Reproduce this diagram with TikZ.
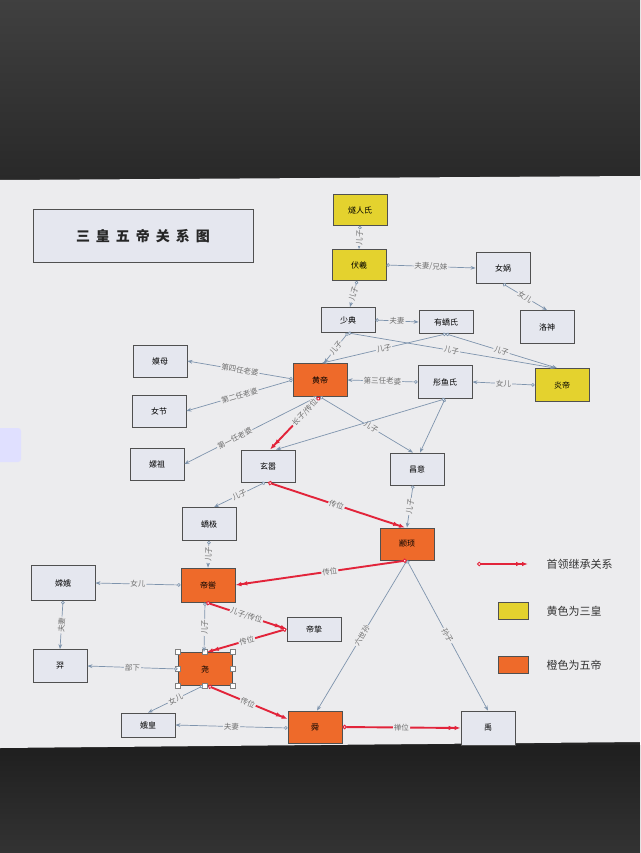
\documentclass[tikz,border=0pt]{standalone}
\usepackage{fontspec}
\setmainfont{Noto Sans CJK SC}
\usetikzlibrary{arrows.meta}
\definecolor{scr}{HTML}{ECECEE}
\definecolor{boxfill}{HTML}{E5E7EF}
\definecolor{boxline}{HTML}{505050}
\definecolor{yel}{HTML}{E4D22E}
\definecolor{org}{HTML}{EE6A2A}
\definecolor{eblue}{HTML}{7E94AD}
\definecolor{rline}{HTML}{E2243A}
\definecolor{lbltext}{HTML}{6E6E6E}
\definecolor{bgdark}{HTML}{242424}
\tikzset{
  box/.style={draw=boxline, line width=0.8pt, fill=boxfill, minimum width=54pt, minimum height=31pt, inner sep=0pt, font=\fontsize{8}{8}\selectfont},
  ybox/.style={box, fill=yel},
  obox/.style={box, fill=org},
  bl/.style={draw=eblue, line width=0.7pt, arrows={Circle[fill=white,length=3.5pt]-Stealth[length=5pt]}},
  rd/.style={draw=rline, line width=1.9pt, arrows={Circle[fill=white,length=4.5pt,line width=1pt]-Latex[length=6pt]Latex[length=6pt]}},
  lbl/.style={font=\fontsize{7.5}{7.5}\selectfont, text=lbltext, fill=scr, inner sep=1pt, sloped},
  handle/.style={draw=gray, fill=white, line width=0.4pt},
  legtext/.style={anchor=west, font=\fontsize{11}{11}\selectfont, text=black!80}
}
\begin{document}
\begin{tikzpicture}[x=1pt, y=-1pt]
\useasboundingbox (0,0) rectangle (640,853);
% background (photo of a screen)
\fill[bgdark] (0,0) rectangle (640,853);
\shade[top color=black!75, bottom color=black!84] (0,0) rectangle (640,180);
\shade[top color=black!88, bottom color=black!80] (0,745) rectangle (640,853);
\fill[scr] (0,180) -- (640,176) -- (640,742) -- (0,748) -- cycle;
\fill[blue!12, rounded corners=3pt] (-5,428) rectangle (21,462);

% title
\node[draw=boxline, line width=0.8pt, fill=boxfill, minimum width=220pt, minimum height=53pt, font=\fontsize{14}{14}\selectfont\bfseries, text=black!85] (title) at (143,236)
  {三\hspace{6pt}皇\hspace{6pt}五\hspace{6pt}帝\hspace{6pt}关\hspace{6pt}系\hspace{6pt}图};

% nodes
\node[ybox] (sr) at (360,210) {燧人氏};
\node[ybox] (fx) at (359,265) {伏羲};
\node[box] (nw) at (503,268) {女娲};
\node[box, minimum height=33pt] (ls) at (547,327) {洛神};
\node[box, minimum height=25pt] (sd) at (348,320) {少典};
\node[box, minimum height=23pt] (yj) at (446,322) {有蟜氏};
\node[box, minimum height=32pt] (mm) at (160,361) {嫫母};
\node[obox, minimum height=33pt] (hd) at (320,380) {黄帝};
\node[box, minimum height=33pt] (ty) at (445,382) {彤鱼氏};
\node[ybox, minimum height=33pt] (yd) at (562,385) {炎帝};
\node[box, minimum height=32pt] (nj) at (159,411) {女节};
\node[box, minimum height=32pt] (lz) at (157,464) {嫘祖};
\node[box, minimum height=32pt] (xx) at (268,466) {玄嚣};
\node[box, minimum height=32pt] (cy) at (417,469) {昌意};
\node[box, minimum height=33pt] (jj) at (209,524) {蟜极};
\node[obox, minimum height=32pt] (zx) at (407,544) {颛顼};
\node[box, minimum width=64pt, minimum height=35pt] (ce) at (63,583) {嫦娥};
\node[obox, minimum height=34pt] (dk) at (208,585) {帝喾};
\node[box, minimum height=24pt] (dz) at (314,629) {帝挚};
\node[box, minimum height=33pt] (yi) at (60,666) {羿};
\node[obox, minimum height=33pt] (yao) at (205,669) {尧};
\node[box, minimum height=24pt] (eh) at (148,725) {娥皇};
\node[obox, minimum height=32pt] (shun) at (315,727) {舜};
\node[box, minimum height=34pt] (yu) at (488,728) {禹};

% selection handles on 尧
\foreach \a in {north west,north,north east,east,south east,south,south west,west}
  \filldraw[handle] ([shift={(-2.5pt,-2.5pt)}]yao.\a) rectangle ([shift={(2.5pt,2.5pt)}]yao.\a);

% blue relations
\draw[bl] (sr.south) -- node[lbl]{儿子} (fx.north);
\draw[bl] ([xshift=-2pt]fx.south) -- node[lbl]{儿子} ([xshift=2pt]sd.north);
\draw[bl] (fx.east) -- node[lbl]{夫妻/兄妹} (nw.west);
\draw[bl] (nw.south) -- node[lbl]{女儿} (ls.north);
\draw[bl] (sd.east) -- node[lbl]{夫妻} (yj.west);
\draw[bl] (sd.south) -- node[lbl]{儿子} ([xshift=4pt]hd.north);
\draw[bl] (sd.south) -- node[lbl]{儿子} ([xshift=-7pt]yd.north);
\draw[bl] (yj.south) -- node[lbl]{儿子} ([xshift=2pt]hd.north);
\draw[bl] (yj.south) -- node[lbl]{儿子} ([xshift=-5pt]yd.north);
\draw[bl] ([yshift=1pt]hd.west) -- node[lbl]{第四任老婆} (mm.east);
\draw[bl] (hd.west) -- node[lbl]{第二任老婆} (nj.east);
\draw[bl] ([xshift=-3pt]hd.south) -- node[lbl, pos=.62]{第一任老婆} (lz.east);
\draw[bl] (ty.west) -- node[lbl]{第三任老婆} (hd.east);
\draw[bl] (yd.west) -- node[lbl]{女儿} (ty.east);
\draw[bl] (hd.south) -- node[lbl, pos=.55]{儿子} ([xshift=-4pt]cy.north);
\draw[bl] (ty.south) -- ([xshift=3pt]cy.north);
\draw[bl] (ty.south) -- ([xshift=8pt]xx.north);
\draw[bl] ([xshift=-3pt]xx.south) -- node[lbl]{儿子} ([xshift=5pt]jj.north);
\draw[bl] ([xshift=-4pt]cy.south) -- node[lbl]{儿子} (zx.north);
\draw[bl] (jj.south) -- node[lbl]{儿子} (dk.north);
\draw[bl] (dk.west) -- node[lbl]{女儿} (ce.east);
\draw[bl] (ce.south) -- node[lbl]{夫妻} (yi.north);
\draw[bl] ([xshift=-3pt]dk.south) -- node[lbl]{儿子} ([xshift=-1pt]yao.north);
\draw[bl] (yao.west) -- node[lbl]{部下} (yi.east);
\draw[bl] ([xshift=-2pt]yao.south) -- node[lbl]{女儿} (eh.north);
\draw[bl] ([yshift=-1pt]shun.west) -- node[lbl]{夫妻} (eh.east);
\draw[bl] (zx.south) -- node[lbl]{六世孙} ([xshift=2pt]shun.north);
\draw[bl] (zx.south) -- node[lbl]{孙子} (yu.north);

% red succession
\draw[rd] (hd.south) -- node[lbl, pos=.3]{长子/传位} ([xshift=2pt]xx.north);
\draw[rd] (xx.south) -- node[lbl]{传位} ([xshift=-2pt]zx.north);
\draw[rd] (zx.south) -- node[lbl, pos=.45]{传位} (dk.east);
\draw[rd] ([xshift=-2pt]dk.south) -- node[lbl]{儿子/传位} (dz.west);
\draw[rd] (dz.west) -- node[lbl]{传位} ([xshift=2pt]yao.north);
\draw[rd] ([xshift=3pt]yao.south) -- node[lbl]{传位} ([yshift=8pt]shun.west);
\draw[rd] (shun.east) -- node[lbl]{禅位} (yu.west);

% legend
\coordinate (lga) at (477,564);
\coordinate (lgb) at (528,564);
\draw[rd] (lga) -- (lgb);
\node[legtext] (lgt1) at (543,564) {首领继承关系};
\node[draw=boxline, line width=0.6pt, fill=yel, minimum width=30pt, minimum height=17pt] (lgy) at (513,611) {};
\node[legtext] (lgt2) at (543,611) {黄色为三皇};
\node[draw=boxline, line width=0.6pt, fill=org, minimum width=30pt, minimum height=17pt] (lgo) at (513,665) {};
\node[legtext] (lgt3) at (543,665) {橙色为五帝};
\end{tikzpicture}
\end{document}
